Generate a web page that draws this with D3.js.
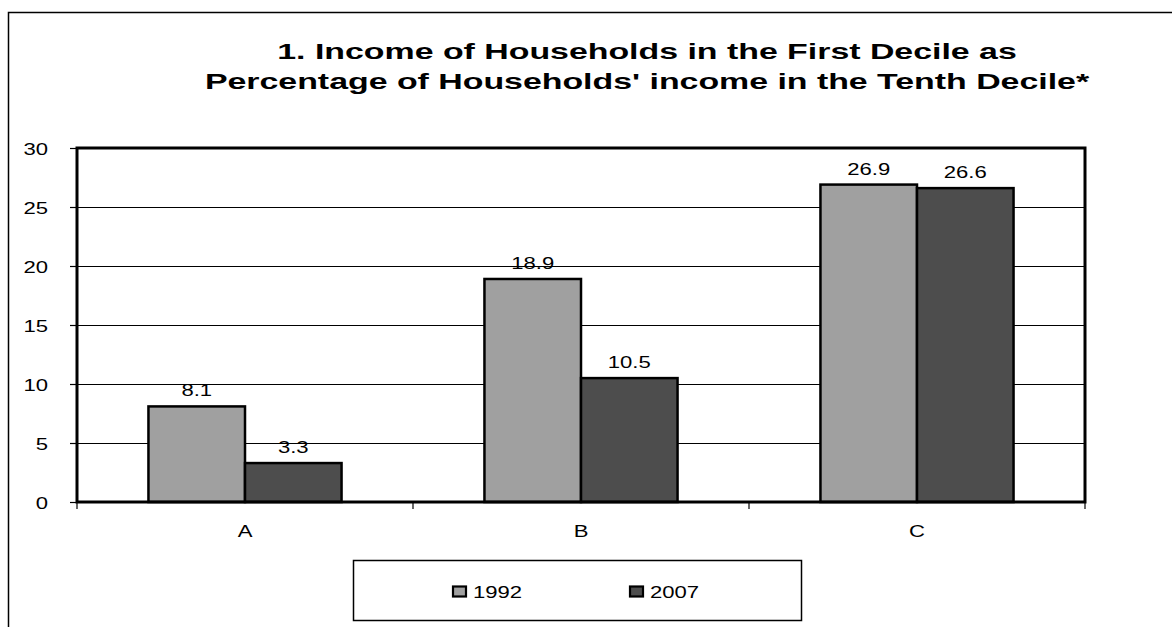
<!DOCTYPE html>
<html>
<head>
<meta charset="utf-8">
<script src="https://cdn.jsdelivr.net/npm/d3@7"></script>
<style>
  html, body { margin: 0; padding: 0; background: #fff; }
  svg { display: block; }
  text { font-family: "Liberation Sans", Arial, sans-serif; fill: #000; }
</style>
</head>
<body>
<svg id="chart" width="1172" height="627"></svg>
<script>
// Chart data
const categories = ["A", "B", "C"];
const seriesNames = ["1992", "2007"];
const values1992 = [8.1, 18.9, 26.9];
const values2007 = [3.3, 10.5, 26.6];
const yTicks = [0, 5, 10, 15, 20, 25, 30];
const titleLines = [
  "1. Income of Households in the First Decile as",
  "Percentage of Households' income in the Tenth Decile*"
];

const seriesValues = [values1992, values2007];
const seriesColors = ["#a0a0a0", "#4d4d4d"];

const W = 1172, H = 627;
const plot = { left: 77, right: 1085, top: 148, bottom: 502 };
const SX = 1.3; // horizontal stretch of the lettering

const svg = d3.select("#chart");

// stretched text helper
function label(g, x, y, str, opts = {}) {
  return g.append("text")
    .attr("transform", `translate(${x},${y}) scale(${opts.sx || SX},1)`)
    .attr("text-anchor", opts.anchor || "middle")
    .style("font-size", (opts.size || 17) + "px")
    .style("font-weight", opts.weight || "normal")
    .text(str);
}

// outer frame
svg.append("rect")
  .attr("x", 8.5).attr("y", 12.5)
  .attr("width", W + 20).attr("height", H + 20)
  .attr("fill", "none").attr("stroke", "#000").attr("stroke-width", 1.5);

// title
titleLines.forEach((t, i) => {
  label(svg, 647, 59 + i * 30, t, { size: 22, weight: "bold", sx: 1.54 });
});

const x0 = d3.scaleBand().domain(categories).range([plot.left, plot.right]).padding(0);
const x1 = d3.scaleBand().domain(seriesNames).range([0, x0.bandwidth()])
  .paddingInner(0).paddingOuter(0.74);
const y = d3.scaleLinear().domain([0, 30]).range([plot.bottom, plot.top]);

// gridlines
svg.append("g")
  .selectAll("line")
  .data(yTicks.filter(d => d > 0 && d < 30))
  .join("line")
  .attr("x1", plot.left).attr("x2", plot.right)
  .attr("y1", d => Math.round(y(d)) + 0.5).attr("y2", d => Math.round(y(d)) + 0.5)
  .attr("stroke", "#000").attr("stroke-width", 1.2);

// y axis ticks and labels
const yAxis = svg.append("g")
  .attr("transform", `translate(${plot.left},0)`)
  .call(d3.axisLeft(y).tickValues(yTicks).tickSize(7).tickFormat(() => ""));
yAxis.select(".domain").remove();
yAxis.selectAll(".tick line").attr("stroke", "#000").attr("stroke-width", 1.2);
yTicks.forEach(v => label(svg, 48, y(v) + 6.5, String(v), { anchor: "end", size: 17 }));

// x axis tick marks at category boundaries
svg.append("g").selectAll("line")
  .data(categories.map(c => x0(c)).concat([plot.right]))
  .join("line")
  .attr("x1", d => d).attr("x2", d => d)
  .attr("y1", plot.bottom).attr("y2", plot.bottom + 7)
  .attr("stroke", "#000").attr("stroke-width", 1.2);
categories.forEach(c => label(svg, x0(c) + x0.bandwidth() / 2, 537, c, { size: 17 }));

// bars
const groups = svg.append("g").selectAll("g")
  .data(categories)
  .join("g")
  .attr("transform", c => `translate(${x0(c)},0)`);

groups.selectAll("rect")
  .data((c, ci) => seriesNames.map((s, si) => ({ s, si, v: seriesValues[si][ci] })))
  .join("rect")
  .attr("x", d => x1(d.s))
  .attr("y", d => y(d.v))
  .attr("width", x1.bandwidth())
  .attr("height", d => y(0) - y(d.v))
  .attr("fill", d => seriesColors[d.si])
  .attr("stroke", "#000").attr("stroke-width", 2.5);

// value labels
categories.forEach((c, ci) => {
  seriesNames.forEach((s, si) => {
    const v = seriesValues[si][ci];
    label(svg, x0(c) + x1(s) + x1.bandwidth() / 2, y(v) - 10, v.toFixed(1), { size: 17 });
  });
});

// plot frame
svg.append("rect")
  .attr("x", plot.left).attr("y", plot.top)
  .attr("width", plot.right - plot.left).attr("height", plot.bottom - plot.top)
  .attr("fill", "none").attr("stroke", "#000").attr("stroke-width", 3);

// legend
const legend = svg.append("g");
legend.append("rect")
  .attr("x", 353.5).attr("y", 560.5).attr("width", 448).attr("height", 60)
  .attr("fill", "#fff").attr("stroke", "#000").attr("stroke-width", 1.5);
const legendX = [452, 629];
seriesNames.forEach((s, i) => {
  legend.append("rect")
    .attr("x", legendX[i] + 1).attr("y", 586.5).attr("width", 13).attr("height", 10)
    .attr("fill", seriesColors[i]).attr("stroke", "#000").attr("stroke-width", 2.2);
  label(legend, legendX[i] + 21, 598, s, { anchor: "start", size: 17 });
});
</script>
</body>
</html>
